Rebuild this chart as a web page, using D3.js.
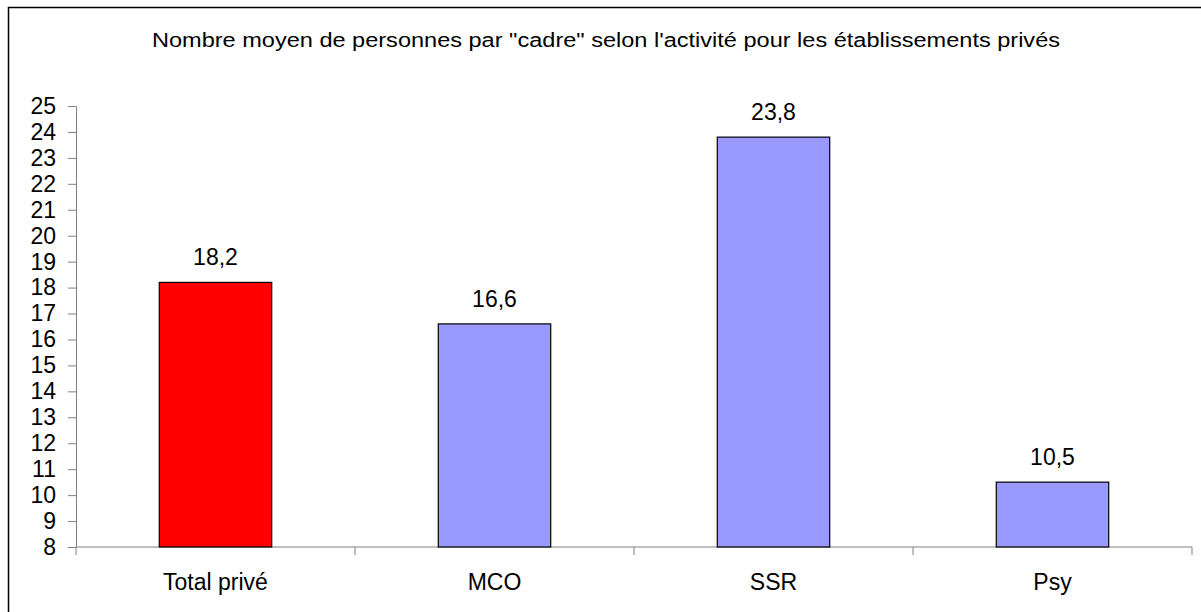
<!DOCTYPE html>
<html>
<head>
<meta charset="utf-8">
<script src="https://cdn.jsdelivr.net/npm/d3@7"></script>
<style>
  body { margin: 0; background: #fff; }
  text { font-family: "Liberation Sans", Arial, sans-serif; fill: #000; }
</style>
</head>
<body>
<svg width="1201" height="612"></svg>
<script>
var categories = ["Total privé", "MCO", "SSR", "Psy"];
var values = [18.2, 16.6, 23.8, 10.5];
var barColors = ["#ff0000", "#9999ff", "#9999ff", "#9999ff"];
var yTicks = [8, 9, 10, 11, 12, 13, 14, 15, 16, 17, 18, 19, 20, 21, 22, 23, 24, 25];
var title = "Nombre moyen de personnes par \"cadre\" selon l'activité pour les établissements privés";

var svg = d3.select("svg"),
    margin = {top: 106, right: 9, bottom: 65, left: 76},
    width = +svg.attr("width") - margin.left - margin.right,
    height = +svg.attr("height") - margin.top - margin.bottom;

// outer frame
svg.append("rect")
    .attr("x", 8.5)
    .attr("y", 7.5)
    .attr("width", 1220)
    .attr("height", 640)
    .attr("fill", "none")
    .attr("stroke", "#000")
    .attr("stroke-width", 1.5);

svg.append("text")
    .attr("x", 152)
    .attr("y", 46.5)
    .attr("textLength", 908)
    .attr("lengthAdjust", "spacingAndGlyphs")
    .style("font-size", "20px")
    .text(title);

var g = svg.append("g").attr("transform", "translate(" + margin.left + "," + margin.top + ")");

var x = d3.scaleBand()
    .domain(categories)
    .range([0, width])
    .paddingInner(0.597)
    .paddingOuter(0.2985);

var xOuter = d3.scaleBand()
    .domain(categories)
    .range([0, width]);

var y = d3.scaleLinear()
    .domain([8, 25])
    .range([height, 0]);

// y axis
var yAxis = g.append("g")
    .call(d3.axisLeft(y).tickValues(yTicks).tickSize(8).tickPadding(12).tickFormat(d3.format("d")));
yAxis.selectAll("line, path").attr("stroke", "#808080");
yAxis.selectAll("text").style("font-size", "23px").attr("fill", "#000");

// x axis with ticks on category boundaries
var xAxis = g.append("g")
    .attr("transform", "translate(0," + height + ")");
xAxis.append("line")
    .attr("x1", 0).attr("x2", width)
    .attr("stroke", "#808080");
xAxis.selectAll(".tick")
    .data(categories.concat([null]))
    .enter().append("line")
    .attr("x1", function (d, i) { return i < categories.length ? xOuter(d) : width; })
    .attr("x2", function (d, i) { return i < categories.length ? xOuter(d) : width; })
    .attr("y1", 0).attr("y2", 8)
    .attr("stroke", "#808080");
xAxis.selectAll(".lbl")
    .data(categories)
    .enter().append("text")
    .attr("x", function (d) { return xOuter(d) + xOuter.bandwidth() / 2; })
    .attr("y", 43)
    .attr("text-anchor", "middle")
    .style("font-size", "23px")
    .text(function (d) { return d; });

// bars
g.selectAll(".bar")
    .data(values)
    .enter().append("rect")
    .attr("x", function (d, i) { return x(categories[i]); })
    .attr("y", function (d) { return y(d); })
    .attr("width", x.bandwidth())
    .attr("height", function (d) { return height - y(d); })
    .attr("fill", function (d, i) { return barColors[i]; })
    .attr("stroke", "#000")
    .attr("stroke-width", 1.2);

g.selectAll(".val")
    .data(values)
    .enter().append("text")
    .attr("x", function (d, i) { return x(categories[i]) + x.bandwidth() / 2; })
    .attr("y", function (d) { return y(d) - 17; })
    .attr("text-anchor", "middle")
    .style("font-size", "23px")
    .text(function (d) { return d3.format(".1f")(d).replace(".", ","); });
</script>
</body>
</html>
